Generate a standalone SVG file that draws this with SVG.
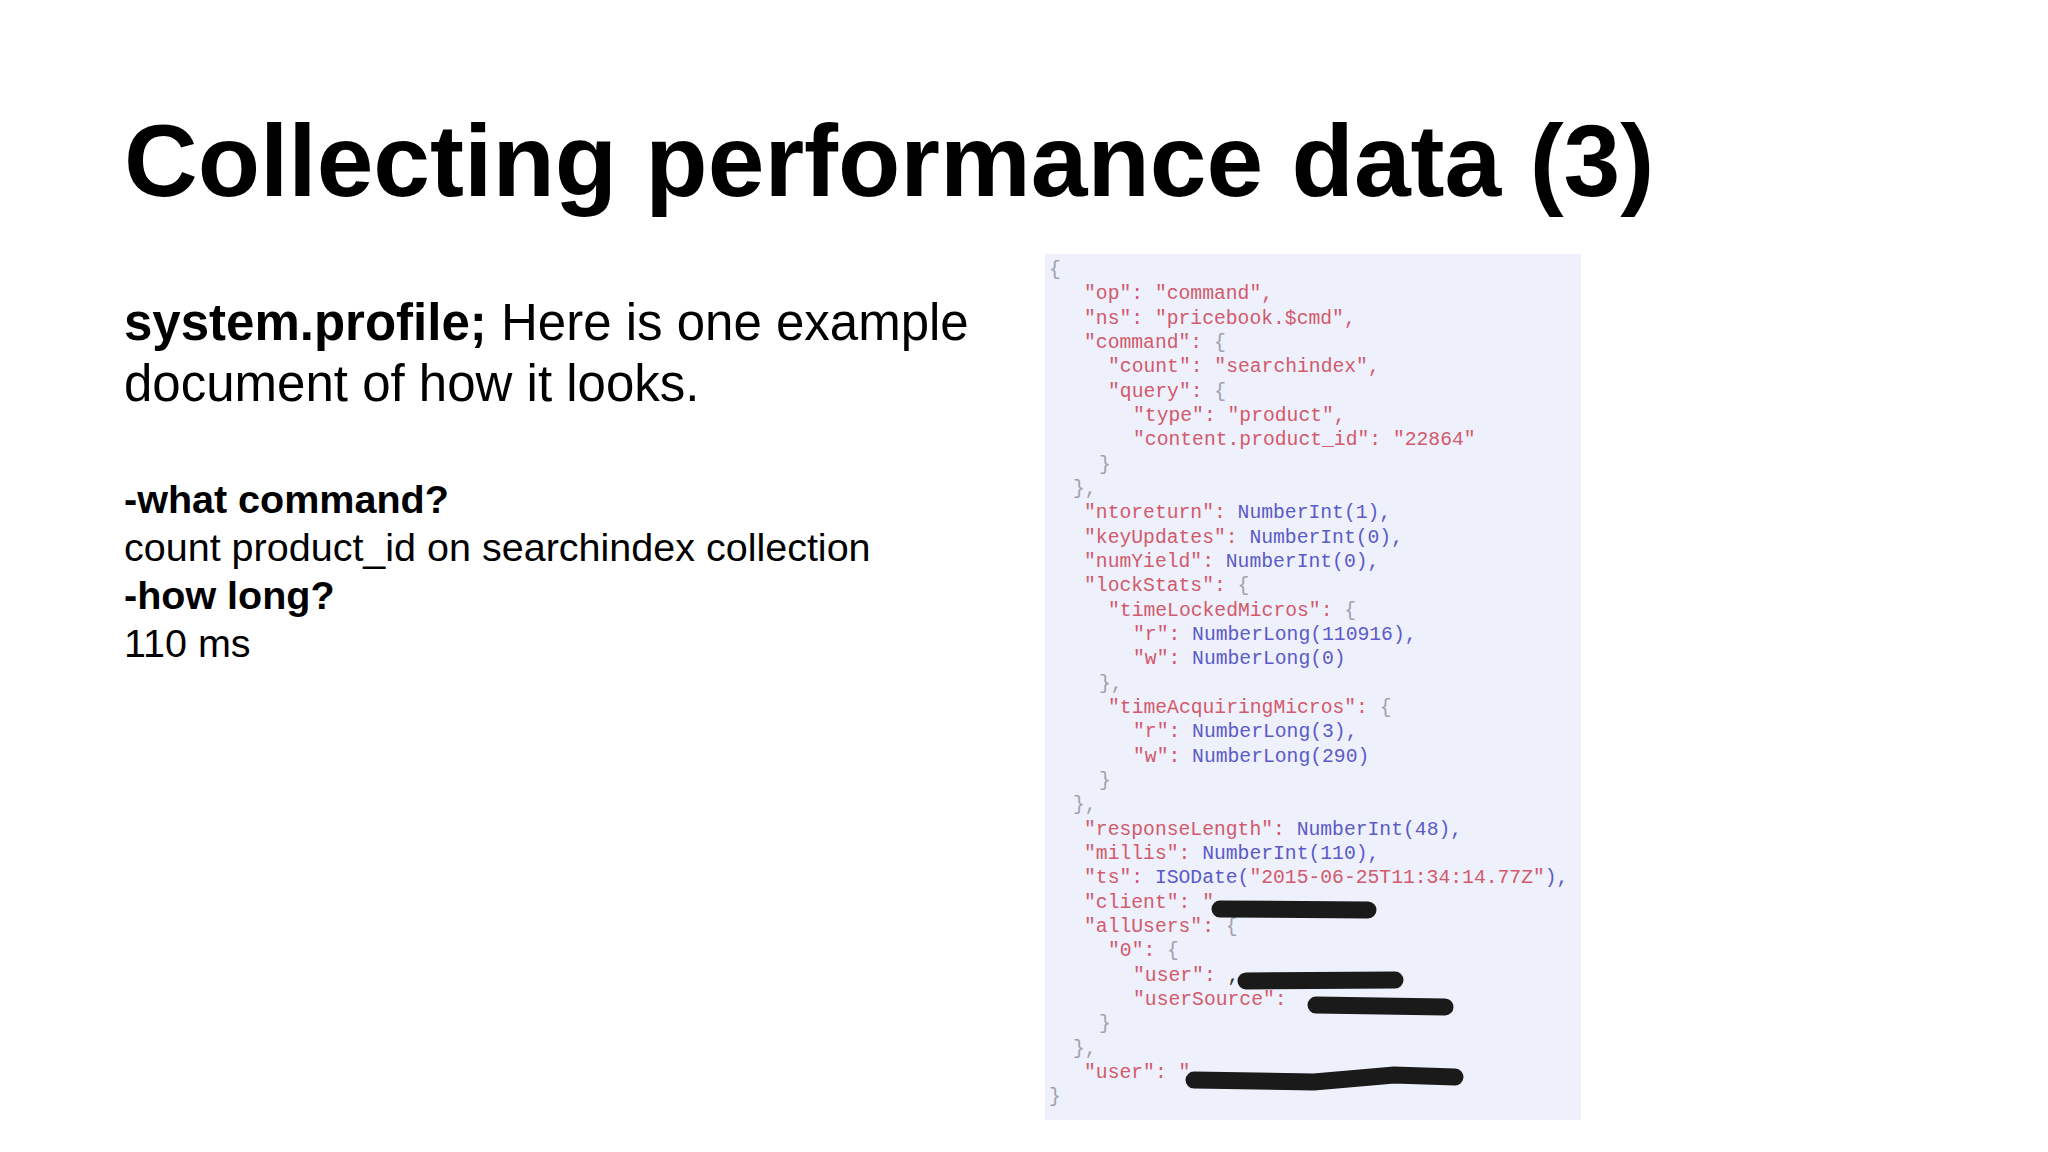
<svg xmlns="http://www.w3.org/2000/svg" width="2048" height="1152" viewBox="0 0 2048 1152">
<style>
.t{font-family:"Liberation Sans",Arial,sans-serif;fill:#000}
.c{font-family:"Liberation Mono","Courier New",monospace;font-size:19.7px;fill:#d25a6c}
.b{fill:#5a5ac8}
.g{fill:#a0a0b0}
.r{stroke:#1a1a1a;stroke-width:17;stroke-linecap:round;fill:none}
</style>
<rect width="2048" height="1152" fill="#fff"/>
<g id="title"><text class="t" x="124" y="196" font-size="102" font-weight="bold">Collecting performance data (3)</text></g>
<g id="body">
<text class="t" x="124" y="340" font-size="51"><tspan font-weight="bold">system.profile;</tspan> Here is one example</text>
<text class="t" x="124" y="401" font-size="51">document of how it looks.</text>
<text class="t" x="124" y="513" font-size="39.5" font-weight="bold">-what command?</text>
<text class="t" x="124" y="561" font-size="39.5">count product_id on searchindex collection</text>
<text class="t" x="124" y="609" font-size="39.5" font-weight="bold">-how long?</text>
<text class="t" x="124" y="657" font-size="39.5">110 ms</text>
</g>
<g id="code">
<rect x="1045" y="254" width="536" height="866" fill="#eef0fb"/>
<text class="c g" x="1049" y="275">{</text>
<text class="c" x="1084" y="299">"op": "command",</text>
<text class="c" x="1084" y="324">"ns": "pricebook.$cmd",</text>
<text class="c" x="1084" y="348">"command": <tspan class="g">{</tspan></text>
<text class="c" x="1108" y="372">"count": "searchindex",</text>
<text class="c" x="1108" y="397">"query": <tspan class="g">{</tspan></text>
<text class="c" x="1133" y="421">"type": "product",</text>
<text class="c" x="1133" y="445">"content.product_id": "22864"</text>
<text class="c g" x="1099" y="470">}</text>
<text class="c g" x="1073" y="494">},</text>
<text class="c" x="1084" y="518">"ntoreturn": <tspan class="b">NumberInt(1),</tspan></text>
<text class="c" x="1084" y="543">"keyUpdates": <tspan class="b">NumberInt(0),</tspan></text>
<text class="c" x="1084" y="567">"numYield": <tspan class="b">NumberInt(0),</tspan></text>
<text class="c" x="1084" y="591">"lockStats": <tspan class="g">{</tspan></text>
<text class="c" x="1108" y="616">"timeLockedMicros": <tspan class="g">{</tspan></text>
<text class="c" x="1133" y="640">"r": <tspan class="b">NumberLong(110916),</tspan></text>
<text class="c" x="1133" y="664">"w": <tspan class="b">NumberLong(0)</tspan></text>
<text class="c g" x="1099" y="689">},</text>
<text class="c" x="1108" y="713">"timeAcquiringMicros": <tspan class="g">{</tspan></text>
<text class="c" x="1133" y="737">"r": <tspan class="b">NumberLong(3),</tspan></text>
<text class="c" x="1133" y="762">"w": <tspan class="b">NumberLong(290)</tspan></text>
<text class="c g" x="1099" y="786">}</text>
<text class="c g" x="1073" y="810">},</text>
<text class="c" x="1084" y="835">"responseLength": <tspan class="b">NumberInt(48),</tspan></text>
<text class="c" x="1084" y="859">"millis": <tspan class="b">NumberInt(110),</tspan></text>
<text class="c" x="1084" y="883">"ts": <tspan class="b">ISODate(</tspan>"2015-06-25T11:34:14.77Z"<tspan class="b">),</tspan></text>
<text class="c" x="1084" y="908">"client": "                ,</text>
<text class="c" x="1084" y="932">"allUsers": <tspan class="g">{</tspan></text>
<text class="c" x="1108" y="956">"0": <tspan class="g">{</tspan></text>
<text class="c" x="1133" y="981">"user": <tspan fill="#333">                  ,</tspan></text>
<text class="c" x="1133" y="1005">"userSource":</text>
<text class="c g" x="1099" y="1029">}</text>
<text class="c g" x="1073" y="1054">},</text>
<text class="c" x="1084" y="1078">"user":                        "</text>
<text class="c g" x="1049" y="1102">}</text>
<path class="r" d="M1220 909 L1368 910"/>
<path class="r" d="M1246 981 L1395 980"/>
<path class="r" d="M1316 1005 L1445 1007"/>
<path class="r" d="M1194 1080 L1314 1082 L1394 1075 L1455 1077"/>
</g>
</svg>
